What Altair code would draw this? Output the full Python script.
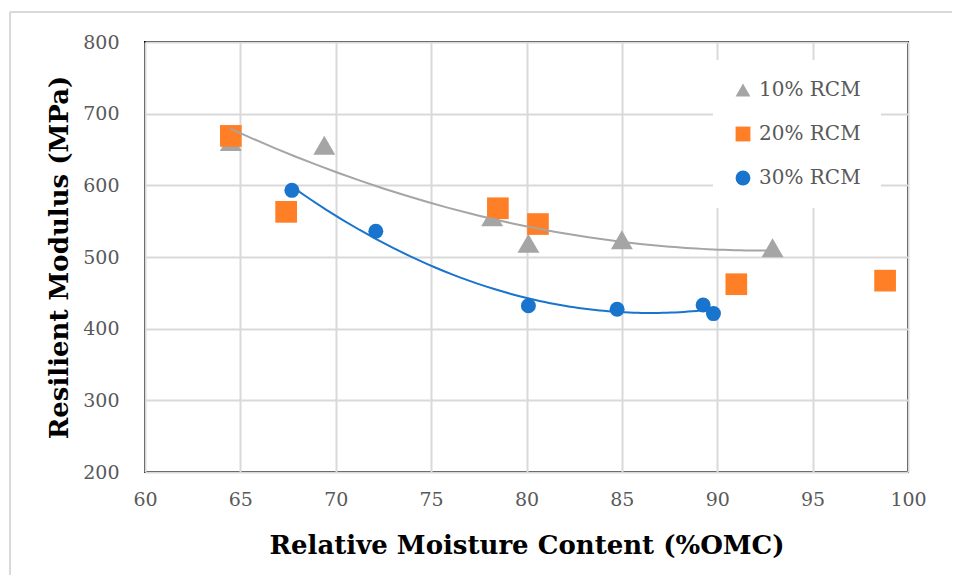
import altair as alt
import pandas as pd

# ---- data ----
series_names = ["10% RCM", "20% RCM", "30% RCM"]

rcm10_x = [64.5, 69.4, 78.2, 80.1, 85.0, 92.9]
rcm10_y = [661, 656, 556, 519, 524, 513]

rcm20_x = [64.5, 67.4, 78.5, 80.6, 91.0, 98.8]
rcm20_y = [669, 563, 568, 546, 462, 467]

rcm30_x = [67.7, 72.1, 80.1, 84.75, 89.26, 89.8]
rcm30_y = [593, 536, 432, 427, 433, 421]

x_ticks = [60, 65, 70, 75, 80, 85, 90, 95, 100]
y_ticks = [200, 300, 400, 500, 600, 700, 800]

colors = ["#A5A5A5", "#FF7F27", "#1874CD"]
shapes = ["triangle-up", "square", "circle"]
sizes = [480, 470, 225]

rows = []
for name, xs, ys in zip(series_names, [rcm10_x, rcm20_x, rcm30_x], [rcm10_y, rcm20_y, rcm30_y]):
    for xv, yv in zip(xs, ys):
        rows.append({"series": name, "x": xv, "y": yv})
df = pd.DataFrame(rows)

SERIF = "DejaVu Serif"

x_enc = alt.X("x:Q", scale=alt.Scale(domain=[60, 100], nice=False, zero=False),
              axis=alt.Axis(values=x_ticks, title="Relative Moisture Content (%OMC)"))
y_enc = alt.Y("y:Q", scale=alt.Scale(domain=[200, 800], nice=False, zero=False),
              axis=alt.Axis(values=y_ticks, title="Resilient Modulus (MPa)"))
color_enc = alt.Color("series:N", scale=alt.Scale(domain=series_names, range=colors),
                      legend=alt.Legend(title=None, orient="none", legendX=568, legendY=18))
shape_enc = alt.Shape("series:N", scale=alt.Scale(domain=series_names, range=shapes),
                      legend=alt.Legend(title=None, orient="none", legendX=568, legendY=18))

base = alt.Chart(df)

def pts(name, size):
    return base.transform_filter(alt.datum.series == name).mark_point(
        filled=True, opacity=1, strokeWidth=0, size=size
    ).encode(x=x_enc, y=y_enc, color=color_enc, shape=shape_enc)

pts10 = pts(series_names[0], sizes[0])
pts20 = pts(series_names[1], sizes[1])
pts30 = pts(series_names[2], sizes[2])

def trend(name, col):
    return base.transform_filter(alt.datum.series == name).transform_regression(
        "x", "y", method="poly", order=2
    ).mark_line(color=col, strokeWidth=2).encode(x="x:Q", y="y:Q")

trend10 = trend(series_names[0], colors[0])
trend30 = trend(series_names[2], colors[2])

# outer chart-area frame (left and top edges visible in the reference)
frame_left = alt.Chart(pd.DataFrame({"a": [0]})).mark_rule(color="#D9D9D9", strokeWidth=2).encode(
    x=alt.value(-135), y=alt.value(-30), y2=alt.value(560))
frame_top = alt.Chart(pd.DataFrame({"a": [0]})).mark_rule(color="#D9D9D9", strokeWidth=2).encode(
    x=alt.value(-135), x2=alt.value(820), y=alt.value(-30))

chart = alt.layer(frame_left, frame_top, pts10, pts20, pts30, trend10, trend30).properties(
    width=763,
    height=430,
    autosize=alt.AutoSizeParams(type="none"),
    padding={"left": 137, "top": 34, "right": 44, "bottom": 103},
).configure_view(
    stroke="#000000", strokeWidth=2
).configure_axis(
    grid=True,
    gridColor="#D9D9D9",
    gridWidth=2,
    domain=False,
    ticks=False,
    labelFont=SERIF,
    labelFontSize=19,
    labelColor="#595959",
    titleFont=SERIF,
    titleFontSize=26,
    titleFontWeight="bold",
    titleColor="#000000",
).configure_axisX(
    labelPadding=18,
    labelFlush=False,
    titlePadding=23,
).configure_axisY(
    labelPadding=26,
    titlePadding=10,
).configure_legend(
    fillColor="white",
    padding=20,
    rowPadding=24,
    symbolSize=220,
    symbolStrokeWidth=0,
    labelFont=SERIF,
    labelFontSize=20,
    labelColor="#595959",
    labelOffset=6,
)

chart.save("out.html", embed_options={"renderer": "svg", "actions": False})
